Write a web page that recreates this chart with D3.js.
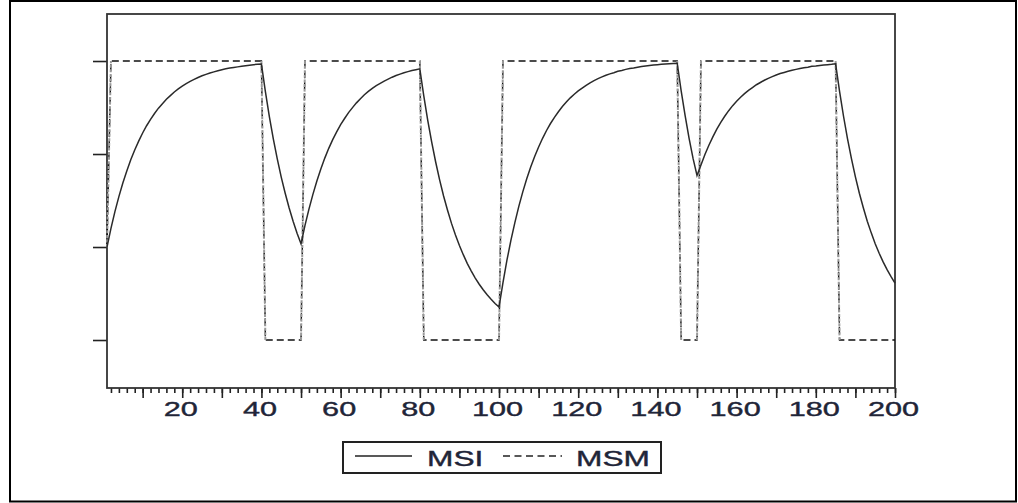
<!doctype html>
<html>
<head>
<script src="https://cdnjs.cloudflare.com/ajax/libs/d3/7.8.5/d3.min.js" type="text/JavaScript"></script>
<style>
body { margin: 0; background: #fff; }
svg { display: block; }
text { font-family: "Liberation Sans", Arial, sans-serif; }
</style>
</head>
<body>
<div id="viz">
<svg style="width:1018px;height:503px;"></svg>
</div>
<script type="text/javascript">
// observation index 1..200
var obs = d3.range(1, 201);

// MSI (smoothed regime probability)
var msi = [
 .333,.400,.460,.514,.563,.606,.646,.681,.713,.742,
 .768,.791,.812,.831,.847,.863,.876,.889,.900,.910,
 .919,.927,.934,.941,.947,.952,.957,.961,.965,.969,
 .972,.975,.977,.979,.981,.983,.985,.987,.988,.989,
 .890,.801,.721,.649,.584,.526,.473,.426,.383,.345,
 .411,.469,.522,.570,.613,.652,.687,.718,.746,.772,
 .794,.815,.833,.850,.865,.879,.891,.902,.912,.920,
 .928,.935,.942,.948,.953,.958,.962,.966,.969,.972,
 .875,.787,.709,.638,.574,.516,.465,.418,.376,.339,
 .305,.274,.247,.222,.200,.180,.162,.146,.131,.118,
 .206,.286,.357,.421,.479,.531,.578,.620,.658,.692,
 .723,.751,.776,.798,.818,.837,.853,.868,.881,.893,
 .903,.913,.922,.930,.937,.943,.949,.954,.958,.963,
 .966,.970,.973,.975,.978,.980,.982,.984,.986,.987,
 .988,.989,.990,.991,.992,.893,.804,.723,.651,.590,
 .627,.665,.698,.728,.756,.780,.802,.822,.840,.856,
 .870,.883,.895,.905,.915,.923,.931,.938,.944,.950,
 .955,.959,.963,.967,.970,.973,.976,.978,.981,.982,
 .984,.986,.987,.988,.990,.891,.802,.722,.650,.585,
 .526,.474,.426,.384,.345,.311,.280,.252,.227,.204
];

// MSM (regime indicator)
var msm = [
 .333,1,1,1,1,1,1,1,1,1,
 1,1,1,1,1,1,1,1,1,1,
 1,1,1,1,1,1,1,1,1,1,
 1,1,1,1,1,1,1,1,1,1,
 0,0,0,0,0,0,0,0,0,0,
 1,1,1,1,1,1,1,1,1,1,
 1,1,1,1,1,1,1,1,1,1,
 1,1,1,1,1,1,1,1,1,1,
 0,0,0,0,0,0,0,0,0,0,
 0,0,0,0,0,0,0,0,0,0,
 1,1,1,1,1,1,1,1,1,1,
 1,1,1,1,1,1,1,1,1,1,
 1,1,1,1,1,1,1,1,1,1,
 1,1,1,1,1,1,1,1,1,1,
 1,1,1,1,1,0,0,0,0,0,
 1,1,1,1,1,1,1,1,1,1,
 1,1,1,1,1,1,1,1,1,1,
 1,1,1,1,1,1,1,1,1,1,
 1,1,1,1,1,0,0,0,0,0,
 0,0,0,0,0,0,0,0,0,0
];

var xLabelTicks = [20, 40, 60, 80, 100, 120, 140, 160, 180, 200];
var xMidTicks = [10, 30, 50, 70, 90, 110, 130, 150, 170, 190];
var yTicks = [0, 1/3, 2/3, 1];
var seriesNames = ["MSI", "MSM"];

var svg = d3.select("svg");
var pLeft = 107, pRight = 895, pTop = 14, pBottom = 388;

var x = d3.scaleLinear().domain([1, 200]).range([pLeft, pRight]);
var y = d3.scaleLinear().domain([-0.172, 1.1685]).range([pBottom, pTop]);

// outer frame
svg.append("rect").attr("x", 10).attr("y", 1).attr("width", 1006).attr("height", 500.5)
   .attr("fill", "none").attr("stroke", "#000").attr("stroke-width", 2);

// x axis: minor, mid and labelled ticks
var axG = svg.append("g").attr("transform", "translate(0," + pBottom + ")");
axG.append("g").call(d3.axisBottom(x).tickValues(d3.range(2, 201, 2)).tickSize(5).tickFormat(""));
axG.append("g").call(d3.axisBottom(x).tickValues(xMidTicks).tickSize(10).tickFormat(""));
axG.append("g").call(d3.axisBottom(x).tickValues(xLabelTicks).tickSize(10).tickFormat(d3.format("d")));
axG.selectAll(".domain").remove();
axG.selectAll("line").attr("stroke", "#222").attr("stroke-width", 1.6);
axG.selectAll("text")
   .attr("y", 28).attr("dy", 0)
   .attr("transform", "translate(-2,0) scale(1.46,1)")
   .style("font-size", "21px").attr("fill", "#1f2538")
   .attr("stroke", "#1f2538").attr("stroke-width", 0.4);

// y axis ticks, no labels
var ayG = svg.append("g").attr("transform", "translate(" + pLeft + ",0)");
ayG.call(d3.axisLeft(y).tickValues(yTicks).tickSize(14).tickFormat(""));
ayG.select(".domain").remove();
ayG.selectAll("line").attr("stroke", "#222").attr("stroke-width", 1.6);

// plot frame
svg.append("rect").attr("x", pLeft).attr("y", pTop).attr("width", pRight - pLeft).attr("height", pBottom - pTop)
   .attr("fill", "none").attr("stroke", "#333").attr("stroke-width", 1.8);

var msmPts = obs.map((t, i) => [t, msm[i]]);
var msiPts = obs.map((t, i) => [t, msi[i]]);
var line = d3.line().x(d => x(d[0])).y(d => y(d[1]));

// MSM dashed
svg.append("path").datum(msmPts).attr("d", line)
   .attr("fill", "none").attr("stroke", "#111").attr("stroke-width", 1.4)
   .attr("stroke-dasharray", "7,4");

// regime switches look grey and finely dotted in the picture
var switches = [];
for (var i = 1; i < msmPts.length; i++) {
  if (msmPts[i][1] !== msmPts[i - 1][1]) switches.push([msmPts[i - 1], msmPts[i]]);
}
svg.selectAll(".sw").data(switches).enter().append("path").attr("class", "sw")
   .attr("d", line)
   .attr("fill", "none").attr("stroke", "#9a9a9a").attr("stroke-width", 2)
   .attr("stroke-dasharray", "3,1.6");

// MSI solid
svg.append("path").datum(msiPts).attr("d", line)
   .attr("fill", "none").attr("stroke", "#2a2a2a").attr("stroke-width", 1.5);

// legend
var lg = svg.append("g");
lg.append("rect").attr("x", 343).attr("y", 442).attr("width", 318).attr("height", 31)
  .attr("fill", "#fff").attr("stroke", "#222").attr("stroke-width", 2);
lg.append("line").attr("x1", 355).attr("x2", 412).attr("y1", 456).attr("y2", 456)
  .attr("stroke", "#222").attr("stroke-width", 1.5);
lg.append("line").attr("x1", 503).attr("x2", 562).attr("y1", 456).attr("y2", 456)
  .attr("stroke", "#222").attr("stroke-width", 1.5).attr("stroke-dasharray", "7,4.5");
lg.selectAll("text.lab").data(seriesNames).enter().append("text").attr("class", "lab")
  .attr("transform", (d, i) => "translate(" + (i ? 576 : 427) + ",466) scale(1.44,1)")
  .style("font-size", "22px").attr("fill", "#1f2538")
  .attr("stroke", "#1f2538").attr("stroke-width", 0.4)
  .text(d => d);
</script>
</body>
</html>
